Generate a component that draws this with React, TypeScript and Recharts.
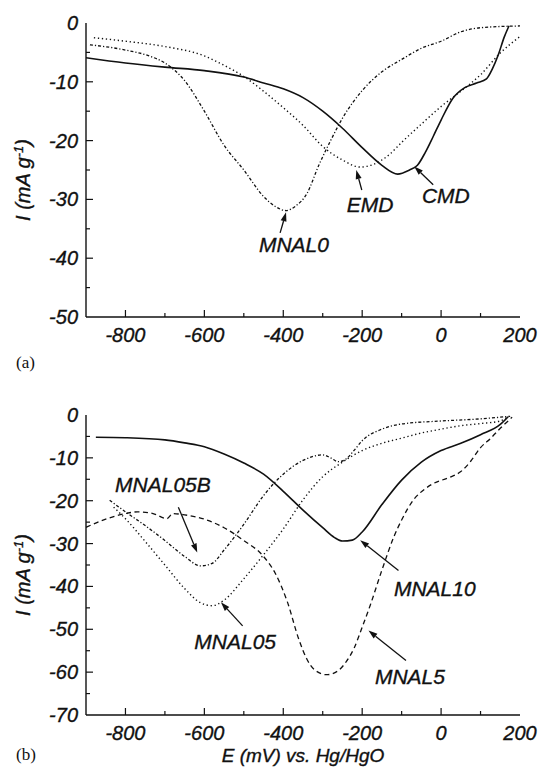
import { LineChart, Line, XAxis, YAxis, ReferenceLine, ReferenceDot } from 'recharts';

// (a) potential E (mV) vs current I (mA/g)
const CMD: [number, number][] = [
  [-900, -5.9], [-800, -6.8], [-700, -7.5], [-600, -8.1], [-500, -9.2], [-450, -10.2],
  [-400, -11.2], [-350, -12.7], [-300, -15.0], [-250, -17.9], [-200, -21.2], [-150, -24.2],
  [-110, -25.7], [-80, -25.0], [-60, -24.2], [-40, -22.0], [-20, -19.3], [0, -16.5],
  [30, -12.8], [60, -11.0], [90, -10.2], [115, -9.5], [130, -7.8], [145, -5.4],
  [160, -2.4], [172, -0.5],
];
const EMD: [number, number][] = [
  [-880, -2.5], [-800, -3.1], [-700, -4.0], [-600, -5.6], [-550, -7.2], [-500, -9.1],
  [-450, -11.6], [-400, -14.4], [-350, -17.4], [-300, -21.0], [-250, -23.3], [-205, -24.5],
  [-170, -24.0], [-130, -22.3], [-100, -20.3], [-50, -17.2], [0, -14.2], [50, -11.6],
  [100, -8.8], [150, -5.1], [200, -2.3],
];
const MNAL0: [number, number][] = [
  [-890, -3.7], [-800, -4.6], [-740, -5.6], [-700, -6.8], [-650, -9.8], [-600, -15.0],
  [-550, -20.8], [-500, -25.0], [-450, -29.5], [-420, -31.2], [-393, -31.9], [-370, -31.2],
  [-340, -29.0], [-310, -24.2], [-280, -20.0], [-250, -16.2], [-200, -11.5], [-150, -8.3],
  [-100, -6.2], [-50, -4.3], [0, -3.1], [50, -1.5], [100, -0.8], [200, -0.5],
];

// (b)
const MNAL10: [number, number][] = [
  [-875, -5.2], [-800, -5.3], [-700, -5.8], [-650, -6.5], [-600, -7.4], [-550, -9.1],
  [-500, -11.2], [-450, -13.8], [-400, -17.8], [-350, -22.2], [-300, -26.3], [-270, -28.6],
  [-250, -29.4], [-225, -29.2], [-200, -27.3], [-150, -20.9], [-100, -15.2], [-50, -11.0],
  [0, -8.3], [50, -6.6], [100, -4.6], [150, -2.2], [170, -0.4],
];
const MNAL05B: [number, number][] = [
  [-840, -19.9], [-800, -22.6], [-750, -25.8], [-700, -29.3], [-650, -33.0], [-610, -35.2],
  [-580, -34.6], [-550, -31.5], [-500, -25.5], [-450, -18.8], [-400, -13.8], [-350, -10.6],
  [-300, -9.3], [-280, -10.0], [-260, -10.9], [-240, -10.2], [-220, -8.2], [-200, -6.0],
  [-150, -3.3], [-100, -2.1], [0, -1.4], [100, -0.9], [175, -0.3],
];
const MNAL05: [number, number][] = [
  [-830, -21.5], [-800, -24.2], [-750, -29.5], [-700, -35.0], [-650, -40.5], [-610, -43.8],
  [-580, -44.5], [-550, -43.2], [-500, -38.2], [-450, -32.6], [-400, -26.6], [-350, -19.8],
  [-300, -14.4], [-250, -11.0], [-200, -8.3], [-150, -6.6], [-100, -5.4], [-50, -4.2],
  [0, -3.3], [50, -2.5], [100, -2.0], [150, -1.4], [170, -0.3],
];
const MNAL5: [number, number][] = [
  [-900, -26.2], [-850, -24.3], [-800, -23.0], [-770, -22.6], [-730, -23.0], [-695, -24.2],
  [-680, -23.0], [-650, -23.3], [-600, -24.3], [-550, -26.3], [-500, -29.3], [-450, -33.0],
  [-420, -37.0], [-390, -43.5], [-360, -52.5], [-340, -57.0], [-320, -59.5], [-290, -60.6],
  [-260, -59.6], [-240, -57.5], [-220, -54.3], [-200, -49.5], [-180, -44.5], [-150, -36.2],
  [-120, -28.5], [-100, -24.5], [-70, -19.8], [-40, -17.2], [-20, -16.0], [20, -14.6],
  [50, -13.2], [75, -10.8], [100, -7.6], [125, -5.5], [150, -3.1], [172, -1.2], [180, -0.5],
];

const xTicks = [-900, -800, -700, -600, -500, -400, -300, -200, -100, 0, 100, 200];
const yTicksA = [0, -5, -10, -15, -20, -25, -30, -35, -40, -45, -50];
const yTicksB = [0, -5, -10, -15, -20, -25, -30, -35, -40, -45, -50, -55, -60, -65, -70];

// label text, label position, arrow tail, arrow tip (data coords)
const notesA = [
  { text: 'MNAL0', at: [-373, -37.7], from: [-408, -35.7], to: [-393, -32.2] },
  { text: 'EMD', at: [-180, -30.9], from: [-201, -28.4], to: [-215, -25.0] },
  { text: 'CMD', at: [12, -29.4], from: [-20, -27.5], to: [-68, -24.4] },
];
const notesB = [
  { text: 'MNAL05B', at: [-705, -16.3], from: [-666, -21.5], to: [-618, -32.1] },
  { text: 'MNAL05', at: [-522, -52.9], from: [-503, -49.2], to: [-558, -43.7] },
  { text: 'MNAL10', at: [-16, -40.4], from: [-108, -36.3], to: [-205, -29.2] },
  { text: 'MNAL5', at: [-79, -61.1], from: [-89, -57.3], to: [-184, -50.3] },
];

const SANS = '"Liberation Sans", Arial, Helvetica, sans-serif';
const ink = '#111';
// the scanned labels are a bit heavier than plain Liberation Sans
const textInk = { fill: ink, stroke: ink, strokeWidth: 0.35 };

const pts = (arr: [number, number][]) => arr.map(([E, I]) => ({ E, I }));

function BottomTick(props: any) {
  const { x, y, payload } = props;
  const v = payload.value;
  const major = v % 200 === 0;
  return (
    <g>
      {v > -900 && v < 200 && (
        <line x1={x} y1={y} x2={x} y2={y - (major ? 7 : 4)} stroke={ink} strokeWidth={1.2} />
      )}
      {major && (
        <text x={x} y={y + 25} textAnchor="middle" fontFamily={SANS} fontStyle="italic" fontSize={20} {...textInk}>
          {String(v)}
        </text>
      )}
    </g>
  );
}

function TopTick(props: any) {
  const { x, y, payload } = props;
  const v = payload.value;
  if (v <= -900 || v >= 200) return <g />;
  return <line x1={x} y1={y} x2={x} y2={y + 5} stroke={ink} strokeWidth={1.2} />;
}

function makeLeftTick(bottom: number) {
  return (props: any) => {
    const { x, y, payload } = props;
    const v = payload.value;
    const major = v % 10 === 0;
    return (
      <g>
        {v < 0 && v > bottom && (
          <line x1={x} y1={y} x2={x + (major ? 7 : 4)} y2={y} stroke={ink} strokeWidth={1.2} />
        )}
        {major && (
          <text x={x - 8} y={y + 7} textAnchor="end" fontFamily={SANS} fontStyle="italic" fontSize={20} {...textInk}>
            {String(v)}
          </text>
        )}
      </g>
    );
  };
}

function Arrow(props: any) {
  const { x1, y1, x2, y2 } = props;
  const dx = x2 - x1;
  const dy = y2 - y1;
  const len = Math.sqrt(dx * dx + dy * dy) || 1;
  const ux = dx / len;
  const uy = dy / len;
  const hl = 9;
  const hw = 3;
  const bx = x2 - ux * hl;
  const by = y2 - uy * hl;
  return (
    <g>
      <line x1={x1} y1={y1} x2={bx} y2={by} stroke={ink} strokeWidth={1.3} />
      <polygon
        points={`${x2},${y2} ${bx - uy * hw},${by + ux * hw} ${bx + uy * hw},${by - ux * hw}`}
        fill={ink}
      />
    </g>
  );
}

function noteLabel(text: string) {
  return (props: any) => (
    <text x={props.cx} y={props.cy + 7.5} textAnchor="middle" fontFamily={SANS} fontStyle="italic" fontSize={21} {...textInk}>
      {text}
    </text>
  );
}

type Series = { name: string; data: [number, number][]; dash?: string; width: number };

function Panel(props: {
  height: number;
  top: number;
  marginTop: number;
  xAxisHeight: number;
  yTicks: number[];
  yMin: number;
  series: Series[];
  notes: typeof notesA;
}) {
  const { height, top, marginTop, xAxisHeight, yTicks, yMin, series, notes } = props;
  return (
    <div style={{ position: 'absolute', left: 0, top }}>
      <LineChart width={541} height={height} margin={{ top: marginTop, right: 21, bottom: 0, left: 0 }}>
        <XAxis
          dataKey="E"
          type="number"
          domain={[-900, 200]}
          ticks={xTicks}
          interval={0}
          allowDataOverflow
          height={xAxisHeight}
          tickSize={0}
          tickMargin={0}
          tickLine={false}
          tick={BottomTick}
          axisLine={{ stroke: ink, strokeWidth: 1.4 }}
        />
        <XAxis
          xAxisId="top"
          orientation="top"
          dataKey="E"
          type="number"
          domain={[-900, 200]}
          ticks={xTicks}
          interval={0}
          allowDataOverflow
          height={0}
          tickSize={0}
          tickMargin={0}
          tickLine={false}
          tick={TopTick}
          axisLine={{ stroke: ink, strokeWidth: 1.4 }}
        />
        <YAxis
          type="number"
          domain={[yMin, 0]}
          ticks={yTicks}
          interval={0}
          allowDataOverflow
          width={86}
          tickSize={0}
          tickMargin={0}
          tickLine={false}
          tick={makeLeftTick(yMin)}
          axisLine={{ stroke: ink, strokeWidth: 1.4 }}
        />
        <YAxis
          yAxisId="right"
          orientation="right"
          type="number"
          domain={[yMin, 0]}
          width={0}
          tick={false}
          tickLine={false}
          axisLine={{ stroke: ink, strokeWidth: 1.4 }}
        />
        {series.map((s) => (
          <Line
            key={s.name}
            name={s.name}
            data={pts(s.data)}
            dataKey="I"
            type="monotone"
            stroke={ink}
            strokeWidth={s.width}
            strokeDasharray={s.dash}
            dot={false}
            activeDot={false}
            isAnimationActive={false}
          />
        ))}
        {notes.map((n) => (
          <ReferenceLine
            key={n.text + '-arrow'}
            segment={[
              { x: n.from[0], y: n.from[1] },
              { x: n.to[0], y: n.to[1] },
            ]}
            shape={Arrow}
            ifOverflow="visible"
          />
        ))}
        {notes.map((n) => (
          <ReferenceDot
            key={n.text + '-label'}
            x={n.at[0]}
            y={n.at[1]}
            r={1}
            shape={noteLabel(n.text)}
            ifOverflow="visible"
          />
        ))}
      </LineChart>
    </div>
  );
}

function YTitle({ cy }: { cy: number }) {
  return (
    <text
      transform={`translate(30, ${cy}) rotate(-90)`}
      textAnchor="middle"
      fontFamily={SANS}
      fontStyle="italic"
      fontSize={20}
      {...textInk}
    >
      I (mA g
      <tspan dy={-7} fontSize={13}>-1</tspan>
      <tspan dy={7}>)</tspan>
    </text>
  );
}

export default function App() {
  return (
    <div style={{ position: 'absolute', left: 0, top: 0, width: 541, height: 772, background: '#fff' }}>
      <svg width={541} height={772} style={{ position: 'absolute', left: 0, top: 0 }}>
        <YTitle cy={180} />
        <YTitle cy={575} />
        <text x={16} y={368} fontFamily='"Liberation Serif", "Times New Roman", serif' fontSize={17} fill={ink}>(a)</text>
        <text x={16} y={760} fontFamily='"Liberation Serif", "Times New Roman", serif' fontSize={17} fill={ink}>(b)</text>
        <text x={303} y={762} textAnchor="middle" fontFamily={SANS} fontStyle="italic" fontSize={19} {...textInk}>
          E (mV) vs. Hg/HgO
        </text>
      </svg>
      <Panel
        top={0}
        height={360}
        marginTop={23}
        xAxisHeight={43}
        yTicks={yTicksA}
        yMin={-50}
        notes={notesA}
        series={[
          { name: 'CMD', data: CMD, width: 1.6 },
          { name: 'EMD', data: EMD, dash: '1.3 2.7', width: 1.4 },
          { name: 'MNAL0', data: MNAL0, dash: '3 2 1.2 2', width: 1.3 },
        ]}
      />
      <Panel
        top={380}
        height={392}
        marginTop={35}
        xAxisHeight={57}
        yTicks={yTicksB}
        yMin={-70}
        notes={notesB}
        series={[
          { name: 'MNAL10', data: MNAL10, width: 1.6 },
          { name: 'MNAL05B', data: MNAL05B, dash: '3 2 1.2 2', width: 1.3 },
          { name: 'MNAL05', data: MNAL05, dash: '1.3 2.7', width: 1.4 },
          { name: 'MNAL5', data: MNAL5, dash: '5 3.5', width: 1.3 },
        ]}
      />
    </div>
  );
}
